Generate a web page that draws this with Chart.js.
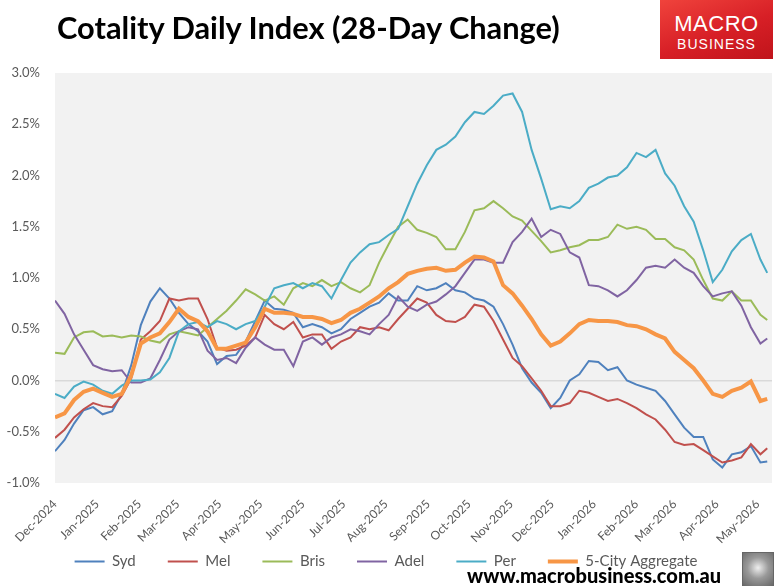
<!DOCTYPE html>
<html><head><meta charset="utf-8">
<script src="https://cdn.jsdelivr.net/npm/chart.js@4.4.1/dist/chart.umd.min.js"></script>
<style>
html,body{margin:0;padding:0;background:#fff;}
#wrap{position:relative;width:775px;height:586px;overflow:hidden;background:#fff;}
#c{position:absolute;left:0;top:0;}
#title{position:absolute;left:57px;top:9px;font-family:Lato,sans-serif;font-weight:700;font-size:30.8px;color:#000;white-space:nowrap;}
#logo{position:absolute;left:660px;top:0;width:113px;height:59px;background:linear-gradient(160deg,#f0433c 0%,#d71f26 55%,#c0141b 100%);color:#fff;text-align:center;font-family:"Liberation Sans",Arial,sans-serif;}
#logo .a{position:absolute;left:0;right:0;top:11px;font-size:22px;letter-spacing:0.5px;}
#logo .b{position:absolute;left:0;right:0;top:36px;font-size:14px;letter-spacing:1px;}
#foot{position:absolute;left:467px;top:563px;font-family:Lato,sans-serif;font-weight:900;font-size:20px;color:#000;white-space:nowrap;}
#wolf{position:absolute;left:742px;top:552px;width:30px;height:33px;border:1px solid #666;background:radial-gradient(circle at 50% 45%,#eee 0%,#999 45%,#666 100%);}
</style></head>
<body><div id="wrap">
<canvas id="c" width="775" height="586"></canvas>
<div id="title">Cotality Daily Index (28-Day Change)</div>
<div id="logo"><div class="a">MACRO</div><div class="b">BUSINESS</div></div>
<div id="foot">www.macrobusiness.com.au</div>
<div id="wolf"></div>
</div>
<script>
const dates = ['2024-12-01','2024-12-08','2024-12-15','2024-12-22','2024-12-29','2025-01-05','2025-01-12','2025-01-19','2025-01-26','2025-02-02',
'2025-02-09','2025-02-16','2025-02-23','2025-03-02','2025-03-09','2025-03-16','2025-03-23','2025-03-30','2025-04-06','2025-04-13',
'2025-04-20','2025-04-27','2025-05-04','2025-05-11','2025-05-18','2025-05-25','2025-06-01','2025-06-08','2025-06-15','2025-06-22',
'2025-06-29','2025-07-06','2025-07-13','2025-07-20','2025-07-27','2025-08-03','2025-08-10','2025-08-17','2025-08-24','2025-08-31',
'2025-09-07','2025-09-14','2025-09-21','2025-09-28','2025-10-05','2025-10-12','2025-10-19','2025-10-26','2025-11-02','2025-11-09',
'2025-11-16','2025-11-23','2025-11-30','2025-12-07','2025-12-14','2025-12-21','2025-12-28','2026-01-04','2026-01-11','2026-01-18',
'2026-01-25','2026-02-01','2026-02-08','2026-02-15','2026-02-22','2026-03-01','2026-03-08','2026-03-15','2026-03-22','2026-03-29',
'2026-04-05','2026-04-12','2026-04-19','2026-04-26','2026-05-03','2026-05-08'];

const syd = [-0.69,-0.58,-0.42,-0.29,-0.26,-0.33,-0.30,-0.13,0.15,0.54,
 0.77,0.90,0.80,0.66,0.55,0.48,0.38,0.16,0.24,0.25,
 0.38,0.58,0.78,0.70,0.69,0.66,0.52,0.55,0.52,0.46,
 0.50,0.60,0.66,0.72,0.76,0.85,0.78,0.78,0.92,0.88,
 0.90,0.95,0.88,0.86,0.80,0.78,0.72,0.55,0.35,0.12,
 -0.02,-0.12,-0.27,-0.17,0.00,0.06,0.19,0.18,0.10,0.13,
 0.00,-0.04,-0.07,-0.10,-0.20,-0.33,-0.46,-0.55,-0.55,-0.77,
 -0.85,-0.72,-0.70,-0.64,-0.80,-0.79];

const mel = [-0.56,-0.48,-0.36,-0.28,-0.22,-0.25,-0.26,-0.15,0.02,0.40,
 0.48,0.58,0.80,0.78,0.80,0.80,0.60,0.32,0.29,0.30,
 0.34,0.42,0.64,0.55,0.50,0.57,0.42,0.45,0.45,0.31,
 0.38,0.42,0.52,0.50,0.52,0.49,0.60,0.70,0.80,0.76,
 0.64,0.58,0.57,0.62,0.74,0.72,0.58,0.40,0.22,0.14,
 0.02,-0.10,-0.25,-0.25,-0.22,-0.10,-0.12,-0.16,-0.20,-0.18,
 -0.22,-0.27,-0.33,-0.38,-0.48,-0.60,-0.63,-0.62,-0.68,-0.74,
 -0.80,-0.78,-0.75,-0.62,-0.72,-0.66];

const bris = [0.27,0.26,0.42,0.47,0.48,0.43,0.44,0.42,0.44,0.43,
 0.39,0.37,0.45,0.48,0.46,0.44,0.52,0.60,0.68,0.78,
 0.89,0.84,0.78,0.82,0.74,0.90,0.95,0.92,0.98,0.92,
 0.96,0.90,0.86,0.93,1.15,1.33,1.50,1.57,1.47,1.44,
 1.40,1.28,1.28,1.45,1.66,1.68,1.75,1.68,1.60,1.56,
 1.46,1.36,1.25,1.27,1.30,1.32,1.37,1.37,1.40,1.52,
 1.48,1.50,1.47,1.38,1.38,1.30,1.27,1.18,0.98,0.80,
 0.78,0.87,0.78,0.78,0.64,0.59];

const adel = [0.78,0.65,0.45,0.30,0.15,0.11,0.09,0.10,-0.02,-0.02,
 0.02,0.20,0.40,0.48,0.52,0.50,0.29,0.20,0.22,0.17,
 0.32,0.42,0.35,0.30,0.30,0.14,0.38,0.42,0.35,0.42,
 0.45,0.50,0.48,0.45,0.55,0.64,0.82,0.72,0.68,0.74,
 0.77,0.84,0.92,1.05,1.18,1.18,1.15,1.15,1.35,1.45,
 1.58,1.40,1.47,1.43,1.25,1.20,0.93,0.92,0.88,0.82,
 0.88,0.98,1.10,1.12,1.10,1.18,1.10,1.05,0.92,0.82,
 0.85,0.87,0.73,0.52,0.36,0.41];

const per = [-0.13,-0.17,-0.06,-0.01,-0.04,-0.10,-0.13,-0.05,0.00,0.00,
 0.01,0.08,0.22,0.48,0.55,0.57,0.52,0.58,0.55,0.50,
 0.55,0.58,0.72,0.90,0.93,0.95,0.90,0.95,0.92,0.80,
 0.98,1.15,1.25,1.33,1.35,1.42,1.48,1.70,1.92,2.10,
 2.25,2.30,2.38,2.52,2.62,2.60,2.68,2.78,2.80,2.62,
 2.25,1.97,1.67,1.70,1.68,1.75,1.88,1.92,1.98,2.00,
 2.08,2.22,2.18,2.25,2.02,1.90,1.70,1.55,1.27,0.96,
 1.08,1.26,1.37,1.43,1.18,1.05];

const agg = [-0.36,-0.32,-0.19,-0.11,-0.08,-0.12,-0.16,-0.13,0.05,0.36,
 0.42,0.46,0.57,0.70,0.62,0.58,0.48,0.31,0.31,0.34,
 0.37,0.52,0.70,0.66,0.66,0.65,0.62,0.62,0.60,0.56,
 0.59,0.66,0.70,0.76,0.82,0.90,0.96,1.04,1.07,1.09,
 1.10,1.07,1.08,1.15,1.21,1.20,1.16,0.93,0.85,0.73,
 0.60,0.45,0.34,0.38,0.46,0.55,0.59,0.58,0.58,0.57,
 0.54,0.53,0.50,0.45,0.41,0.28,0.20,0.12,0.00,-0.13,
 -0.16,-0.10,-0.07,-0.01,-0.20,-0.18];

const seriesNames = ['Syd','Mel','Bris','Adel','Per','5-City Aggregate'];
const monthTicks = ['2024-12-01','2025-01-01','2025-02-01','2025-03-01','2025-04-01','2025-05-01','2025-06-01','2025-07-01','2025-08-01',
'2025-09-01','2025-10-01','2025-11-01','2025-12-01','2026-01-01','2026-02-01','2026-03-01','2026-04-01','2026-05-01'];
const monthLabels = ['Dec-2024','Jan-2025','Feb-2025','Mar-2025','Apr-2025','May-2025','Jun-2025','Jul-2025','Aug-2025',
'Sep-2025','Oct-2025','Nov-2025','Dec-2025','Jan-2026','Feb-2026','Mar-2026','Apr-2026','May-2026'];
const yTickValues = [-1.0,-0.5,0.0,0.5,1.0,1.5,2.0,2.5,3.0];

const base = Date.parse('2024-12-01');
const dayOf = s => (Date.parse(s) - base) / 86400000;
const pts = arr => dates.map((d, i) => ({x: dayOf(d), y: arr[i]}));

const colors = ['#4F81BD','#C0504D','#9BBB59','#8064A2','#4BACC6','#F79646'];
const widths = [2,2,2,2,2,4];
const values = [syd, mel, bris, adel, per, agg];

const bgPlugin = {
  id: 'plotBg',
  beforeDraw(chart) {
    const {ctx, chartArea: a} = chart;
    ctx.save();
    ctx.fillStyle = '#F2F2F2';
    ctx.fillRect(a.left, a.top, a.right - a.left, a.bottom - a.top);
    ctx.restore();
  }
};

Chart.defaults.font.family = 'Lato';
new Chart(document.getElementById('c'), {
  type: 'line',
  data: {
    datasets: values.map((v, i) => ({
      label: seriesNames[i],
      data: pts(v),
      borderColor: colors[i],
      backgroundColor: colors[i],
      borderWidth: widths[i],
      pointRadius: 0,
      tension: 0,
      fill: false,
      order: 5 - i
    }))
  },
  options: {
    responsive: false,
    animation: false,
    devicePixelRatio: 1,
    layout: {padding: {top: 73, right: 3, bottom: 7, left: 0}},
    plugins: {
      legend: {
        position: 'bottom',
        labels: {
          usePointStyle: true,
          pointStyle: 'line',
          pointStyleWidth: 30,
          padding: 32,
          color: '#595959',
          font: {family: 'Lato', size: 15},
          sort: (a, b) => a.datasetIndex - b.datasetIndex
        }
      },
      tooltip: {enabled: false}
    },
    scales: {
      x: {
        type: 'linear',
        min: 0,
        max: 526.5,
        afterBuildTicks: s => { s.ticks = monthTicks.map(d => ({value: dayOf(d)})); },
        afterFit: s => { s.height = 39; s._computeLabelArea = () => undefined; },
        grid: {display: false},
        border: {display: false},
        ticks: {
          autoSkip: false,
          minRotation: 45,
          maxRotation: 45,
          padding: 6,
          color: '#595959',
          font: {family: 'Lato', size: 12},
          callback: (v, i) => monthLabels[i]
        }
      },
      y: {
        min: -1,
        max: 3,
        afterBuildTicks: s => { s.ticks = yTickValues.map(v => ({value: v})); },
        afterFit: s => { s.width = 55; },
        grid: {
          drawTicks: false,
          color: c => (c.tick && c.tick.value === 0) ? '#D9D9D9' : 'rgba(0,0,0,0)',
          lineWidth: 1.5
        },
        border: {display: false},
        ticks: {
          padding: 15,
          color: '#595959',
          font: {family: 'Lato', size: 13},
          callback: v => v.toFixed(1) + '%'
        }
      }
    }
  },
  plugins: [bgPlugin]
});
</script>
</body></html>
